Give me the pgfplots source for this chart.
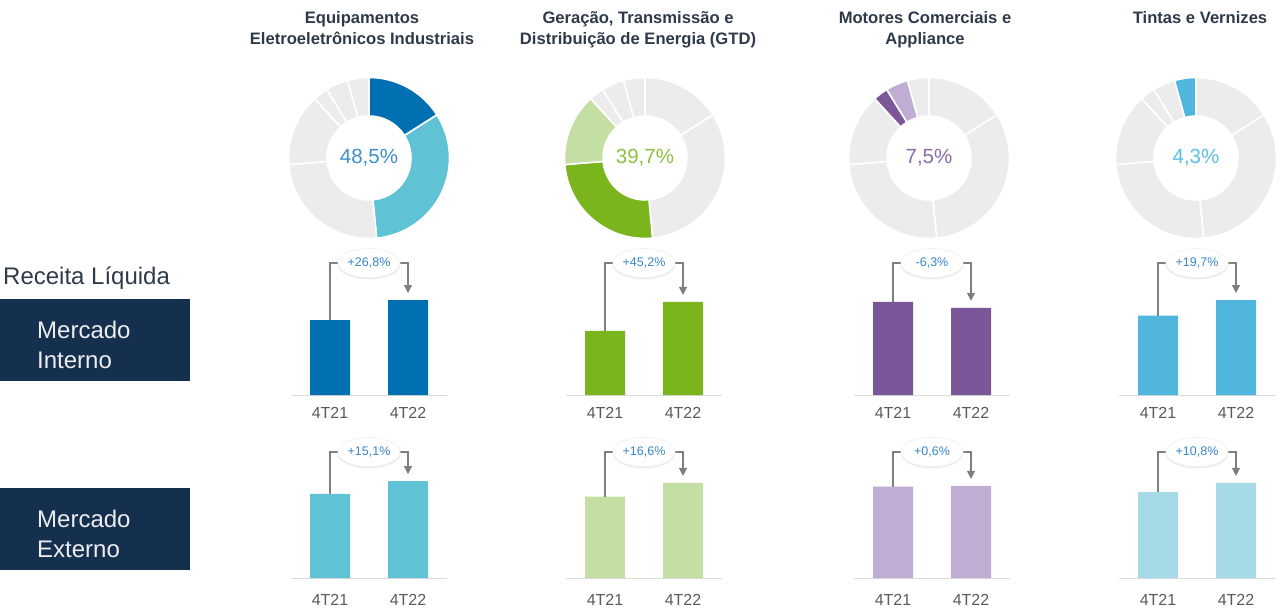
\documentclass[border=0pt]{standalone}
\usepackage{pgfplots}
\pgfplotsset{compat=1.18}
\usepackage{fontspec}
\setmainfont{Liberation Sans}
\usetikzlibrary{shapes.geometric,arrows.meta}

\definecolor{eeiD}{HTML}{0070B2}
\definecolor{eeiL}{HTML}{60C2D5}
\definecolor{gtdD}{HTML}{7AB51D}
\definecolor{gtdL}{HTML}{C4DFA3}
\definecolor{mcaD}{HTML}{7B5799}
\definecolor{mcaL}{HTML}{C1ADD4}
\definecolor{tvD}{HTML}{50B6DE}
\definecolor{tvL}{HTML}{A6DAE6}
\definecolor{ringgray}{HTML}{ECECEC}
\definecolor{navy}{HTML}{15304F}
\definecolor{titlec}{HTML}{2E3A4A}
\definecolor{pctblue}{HTML}{3A87C7}
\definecolor{tickc}{HTML}{5A5A5A}
\definecolor{brk}{HTML}{7F7F7F}
\definecolor{cA}{HTML}{3D8FCB}
\definecolor{cB}{HTML}{8DC041}
\definecolor{cC}{HTML}{8A6AA8}
\definecolor{cD}{HTML}{5DBDE6}

% #1 left x, #2 baseline y, #3 v1, #4 v2, #5 ymax, #6 colour, #7 label, #8 bracket height (rel), #9 tick label shift
\newcommand{\barpanel}[9]{%
\begin{axis}[
  at={(#1pt,#2pt)}, anchor=south west,
  scale only axis, width=156pt, height=100pt,
  xmin=-0.5, xmax=1.5, ymin=0, ymax=#5,
  axis x line*=bottom, axis y line=none,
  x axis line style={draw=black!14, line width=0.9pt, -},
  xtick={0,1}, xticklabels={4T21,4T22}, major tick length=0pt,
  ytick=\empty,
  xticklabel style={font=\fontsize{16pt}{18pt}\selectfont, text=tickc, yshift=#9},
  clip=false,
]
\addplot[ybar, bar width=40pt, fill=#6, draw=none] coordinates {(0,#3) (1,#4)};
\draw[brk, line width=1.1pt, -{Triangle[width=8pt,length=8pt]}]
  (axis cs:0,#3) -- (rel axis cs:0.25,#8) -- (rel axis cs:0.75,#8) -- ([yshift=7pt]axis cs:1,#4);
\node[ellipse, fill=black!7, minimum width=63pt, minimum height=30pt, inner sep=0pt]
  at ([yshift=-1.5pt]rel axis cs:0.5,#8) {};
\node[ellipse, fill=white, draw=black!6, line width=0.6pt, minimum width=62pt, minimum height=29pt,
  inner sep=0pt, text=pctblue, font=\fontsize{12.5pt}{14pt}\selectfont] at (rel axis cs:0.5,#8) {#7};
\end{axis}}

% #1 cx, #2 cy, #3 cumulative share/colour list, #4 text, #5 text colour
\newcommand{\donut}[5]{%
\begin{scope}[shift={(#1pt,#2pt)}]
\foreach \e/\c [remember=\e as \s (initially 0)] in {#3} {
  \fill[\c, draw=white, line width=1.6pt]
    ({90-3.6*\s}:80.5pt) arc[start angle={90-3.6*\s}, end angle={90-3.6*\e}, radius=80.5pt]
    -- ({90-3.6*\e}:42pt) arc[start angle={90-3.6*\e}, end angle={90-3.6*\s}, radius=42pt] -- cycle;
}
\node[text=#5, font=\fontsize{20.5pt}{22pt}\selectfont] at (0,0) {#4};
\end{scope}}

\begin{document}
\begin{tikzpicture}[x=1pt,y=1pt]
\useasboundingbox (0,0) rectangle (1280,614);

% titles
\begin{scope}[every node/.style={font=\bfseries\fontsize{16.6pt}{20pt}\selectfont, text=titlec, anchor=base}]
\node at (362,590) {Equipamentos};
\node at (362,569) {Eletroeletrônicos Industriais};
\node at (638,590) {Geração, Transmissão e};
\node at (638,569) {Distribuição de Energia (GTD)};
\node at (925,590) {Motores Comerciais e};
\node at (925,569) {Appliance};
\node at (1200,590) {Tintas e Vernizes};
\end{scope}

% donuts (cumulative shares in %)
\donut{369}{456}{16/eeiD,48.5/eeiL,73.7/ringgray,88.2/ringgray,91.2/ringgray,95.7/ringgray,100/ringgray}{48,5\%}{cA}
\donut{645}{456}{16/ringgray,48.5/ringgray,73.7/gtdD,88.2/gtdL,91.2/ringgray,95.7/ringgray,100/ringgray}{39,7\%}{cB}
\donut{929}{456}{16/ringgray,48.5/ringgray,73.7/ringgray,88.2/ringgray,91.2/mcaD,95.7/mcaL,100/ringgray}{7,5\%}{cC}
\donut{1196}{456}{16/ringgray,48.5/ringgray,73.7/ringgray,88.2/ringgray,91.2/ringgray,95.7/ringgray,100/tvD}{4,3\%}{cD}

% left labels
\node[anchor=base west, text=titlec, font=\fontsize{24pt}{26pt}\selectfont, inner sep=0pt] at (3,329) {Receita Líquida};
\fill[navy] (0,233) rectangle (190,315);
\fill[navy] (0,44) rectangle (190,126);
\begin{scope}[every node/.style={anchor=base west, inner sep=0pt, text=white!93!black, font=\fontsize{24pt}{26pt}\selectfont}]
\node at (37,276) {Mercado};
\node at (37,246) {Interno};
\node at (37,87) {Mercado};
\node at (37,57) {Externo};
\end{scope}

% bar panels: index 4T21 = 100
\barpanel{291}{219}{100}{126.8}{133.5}{eeiD}{+26,8\%}{1.32}{-9pt}
\barpanel{291}{36}{100}{115.1}{118.7}{eeiL}{+15,1\%}{1.26}{-13pt}
\barpanel{566}{219}{100}{145.2}{156.1}{gtdD}{+45,2\%}{1.32}{-9pt}
\barpanel{566}{36}{100}{116.6}{122.7}{gtdL}{+16,6\%}{1.26}{-13pt}
\barpanel{854}{219}{100}{93.7}{107.5}{mcaD}{-6,3\%}{1.32}{-9pt}
\barpanel{854}{36}{100}{100.6}{109.3}{mcaL}{+0,6\%}{1.26}{-13pt}
\barpanel{1119}{219}{100}{119.7}{126.0}{tvD}{+19,7\%}{1.32}{-9pt}
\barpanel{1119}{36}{100}{110.8}{116.6}{tvL}{+10,8\%}{1.26}{-13pt}
\end{tikzpicture}
\end{document}
